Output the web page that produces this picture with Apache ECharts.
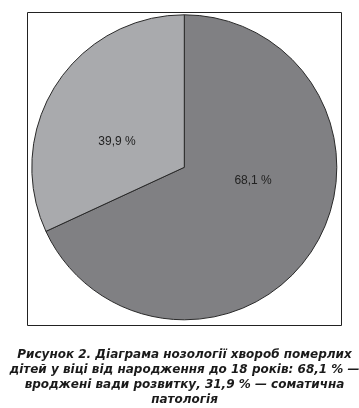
<!DOCTYPE html>
<html><head><meta charset="utf-8">
<script src="https://cdn.jsdelivr.net/npm/echarts@6/dist/echarts.min.js"></script>
<style>html,body{margin:0;padding:0;background:#fff}#c{width:359px;height:408px}</style>
</head><body><div id="c"></div>
<script>
const categories = ['вроджені вади розвитку', 'соматична патологія'];
const values = [68.1, 31.9];
const labels = ['68,1 %', '39,9 %'];
const colors = ['#808083', '#a9aaad'];
const captionLines = [
  'Рисунок 2. Діаграма нозології хвороб померлих',
  'дітей у віці від народження до 18 років: 68,1 % —',
  'вроджені вади розвитку, 31,9 % — соматична',
  'патологія'
];
const labelOffsets = [[2, -29], [-0.5, 17.5]];

const chart = echarts.init(document.getElementById('c'), null, {renderer: 'canvas'});
chart.setOption({
  animation: false,
  backgroundColor: '#fff',
  graphic: [{
    type: 'rect', shape: {x: 27.5, y: 12.5, width: 314, height: 313},
    style: {fill: 'none', stroke: '#222', lineWidth: 1}, silent: true
  }],
  title: {
    text: captionLines.join('\n'),
    left: 179.5, top: 342,
    textAlign: 'center',
    textStyle: {fontFamily: 'DejaVu Sans', fontSize: 12, fontWeight: 'bold', fontStyle: 'italic', color: '#1a1a1a', lineHeight: 15, align: 'center'}
  },
  series: [{
    type: 'pie',
    center: [184.3, 167.3],
    radius: [0, 152.5],
    startAngle: 90,
    clockwise: true,
    label: {show: true, position: 'inside', fontFamily: 'Liberation Sans, Arial', fontSize: 12, color: '#222'},
    labelLine: {show: false},
    itemStyle: {borderColor: '#2a2a2a', borderWidth: 1},
    emphasis: {disabled: true},
    data: categories.map((n, i) => ({
      name: n, value: values[i],
      itemStyle: {color: colors[i]},
      label: {formatter: labels[i], offset: labelOffsets[i]}
    }))
  }]
});
</script></body></html>
